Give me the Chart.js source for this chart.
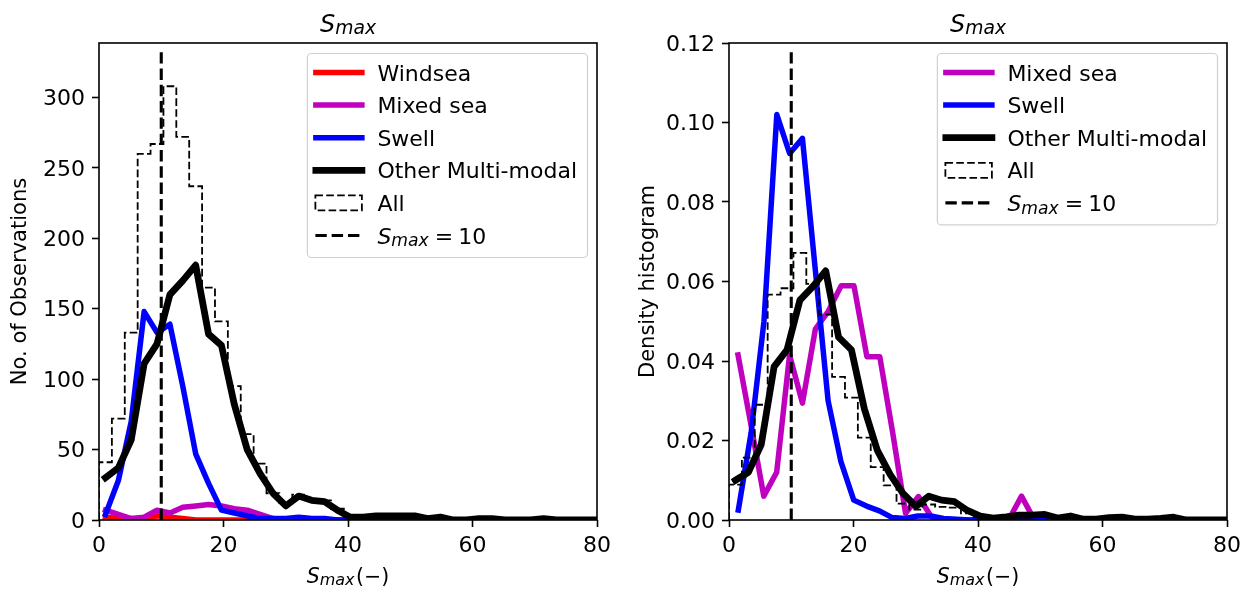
<!DOCTYPE html>
<html>
<head>
<meta charset="utf-8">
<script src="https://cdn.jsdelivr.net/npm/chart.js@4.4.1/dist/chart.umd.min.js"></script>
<style>
    body { margin: 0; background: #fff; }
    #wrap { position: relative; width: 1253px; height: 592px; }
    canvas { position: absolute; top: 0; }
    #counts { left: 0; }
    #density { left: 626px; }
</style>
</head>
<body>
<div id="wrap">
    <canvas id="counts" width="626" height="592"></canvas>
    <canvas id="density" width="627" height="592"></canvas>
</div>
<script>
// histogram bins of S_max (shared by the count plot and the "All" density)
const binEdges = [0, 2.07, 4.14, 6.21, 8.28, 10.35, 12.42, 14.49, 16.56, 18.63, 20.7, 22.77, 24.84, 26.91, 28.98, 31.05, 33.12, 35.19, 37.26, 39.33,
    41.4, 43.47, 45.54, 47.61, 49.68, 51.75, 53.82, 55.89, 57.96, 60.03, 62.1, 64.17, 66.24, 68.31, 70.38, 72.45, 74.52, 76.59, 78.66, 80.73, 82.8];
const binCentres = [1.04, 3.11, 5.18, 7.25, 9.32, 11.39, 13.46, 15.53, 17.6, 19.67, 21.74, 23.81, 25.88, 27.95, 30.02, 32.09, 34.16, 36.23, 38.3, 40.37,
    42.44, 44.51, 46.58, 48.65, 50.72, 52.79, 54.86, 56.93, 59.0, 61.07, 63.14, 65.21, 67.28, 69.35, 71.42, 73.49, 75.56, 77.63, 79.7, 81.77];

// number of observations per bin
const windseaCount = [2, 1, 1, 0, 3, 2, 1, 0, 0, 0, 0, 0, 0, 0, 0, 0, 0, 0, 0, 0,
    0, 0, 0, 0, 0, 0, 0, 0, 0, 0, 0, 0, 0, 0, 0, 0, 0, 0, 0, 0];
const mixedCount = [7, 4, 1, 2, 7, 5, 9, 10, 11, 10, 8, 7, 4, 1, 0, 0, 0, 0, 0, 0,
    0, 0, 0, 0, 0, 0, 0, 0, 0, 0, 0, 0, 0, 0, 0, 0, 0, 0, 0, 0];
const swellCount = [4, 28, 70, 148, 133, 139, 95, 47, 26, 7, 5, 3, 1, 1, 1, 2, 1, 1, 0, 0,
    0, 1, 1, 1, 0, 0, 0, 0, 0, 0, 0, 0, 0, 0, 0, 0, 0, 0, 0, 0];
const otherCount = [30, 37, 57, 111, 125, 160, 170, 181, 132, 124, 82, 50, 33, 19, 10, 17, 14, 13, 7, 2,
    2, 3, 3, 3, 3, 1, 2, 0, 0, 1, 1, 0, 0, 0, 1, 0, 0, 0, 0, 0];
const allCount = [41, 72, 133, 260, 267, 308, 272, 237, 165, 141, 95, 61, 40, 19, 12, 18, 15, 14, 8, 3,
    3, 4, 4, 4, 3, 1, 2, 0, 0, 1, 1, 0, 0, 0, 1, 0, 0, 0, 0, 0];

// density histograms (mixed sea and swell have their own bins)
const mixedCentresD = [1.45, 3.52, 5.59, 7.66, 9.73, 11.8, 13.87, 15.94, 18.01, 20.08, 22.15, 24.22,
    26.29, 28.36, 30.43, 32.5, 34.57, 36.64, 38.71, 40.78, 42.85, 44.92, 46.99, 49.06];
const mixedDensity = [0.0415, 0.024, 0.006, 0.012, 0.0415, 0.0294, 0.048, 0.0525, 0.0589, 0.0589, 0.0411, 0.0411,
    0.022, 0.0017, 0.0059, 0.0008, 0, 0, 0, 0, 0, 0, 0.006, 0];
const swellCentresD = [1.5, 3.56, 5.62, 7.68, 9.74, 11.8, 13.86, 15.92, 17.98, 20.04, 22.1, 24.16, 26.22,
    28.28, 30.34, 32.4, 34.46, 36.52, 38.58, 40.64, 42.7, 44.76, 46.82, 48.88, 50.94];
const swellDensity = [0.0025, 0.022, 0.05, 0.102, 0.0922, 0.096, 0.063, 0.030, 0.0147, 0.005, 0.0035, 0.0023, 0.0006,
    0.0004, 0.0010, 0.0010, 0.0004, 0.0002, 0, 0, 0, 0.0003, 0.0003, 0.0003, 0];
const otherDensity = [0.0100, 0.0120, 0.0190, 0.0386, 0.0428, 0.0553, 0.0587, 0.0627, 0.0460, 0.0428,
    0.0280, 0.0176, 0.0115, 0.0067, 0.0034, 0.0060, 0.0050, 0.0046, 0.0024, 0.0010,
    0.0005, 0.0008, 0.0012, 0.0012, 0.0014, 0.0005, 0.0010, 0.0002, 0.0002, 0.0006,
    0.0007, 0.0002, 0.0002, 0.0004, 0.0007, 0, 0, 0, 0, 0];
const allDensity = [0.0089, 0.0157, 0.0290, 0.0567, 0.0583, 0.0672, 0.0594, 0.0517, 0.0360, 0.0308,
    0.0207, 0.0133, 0.0087, 0.0041, 0.0026, 0.0039, 0.0033, 0.0031, 0.0017, 0.0007,
    0.0007, 0.0009, 0.0009, 0.0009, 0.0007, 0.0002, 0.0004, 0, 0, 0.0002,
    0.0002, 0, 0, 0, 0.0002, 0, 0, 0, 0, 0];

// S_max = 10 reference line
const smaxRef = 10;
const refTopCount = 334;
const refTopDensity = 0.1186;

// axes
const xTicks = [0, 20, 40, 60, 80];
const countTicks = [0, 50, 100, 150, 200, 250, 300];
const densityTicks = [0, 0.02, 0.04, 0.06, 0.08, 0.10, 0.12];
const countMax = 338.7;
const densityMax = 0.12;

const countLegend = ['Windsea', 'Mixed sea', 'Swell', 'Other Multi-modal', 'All'];
const densityLegend = ['Mixed sea', 'Swell', 'Other Multi-modal', 'All'];

const FONT = '"DejaVu Sans"';
const FS = 22;        // ticks and legend
const LABEL_FS = 20.5; // axis labels
const colours = { windsea: '#ff0000', mixed: '#bf00bf', swell: '#0000ff', other: '#000000' };

const fontStr = (size, italic) => (italic ? 'italic ' : '') + size + 'px ' + FONT;
const pts = (xs, ys) => xs.map((x, i) => ({ x: x, y: ys[i] }));

// outline of a step histogram: up the first edge, across each bin, down the last edge
const stepPts = (edges, heights) => {
    const p = [{ x: edges[0], y: 0 }];
    heights.forEach((h, i) => p.push({ x: edges[i], y: h }));
    p.push({ x: edges[edges.length - 1], y: 0 });
    return p;
};

// S with an italic "max" subscript
const smaxParts = (size) => [
    { t: 'S', size: size, it: true },
    { t: 'max', size: size * 0.78, it: true, dy: size * 0.12 }
];

const richWidth = (ctx, parts) => {
    let w = 0;
    parts.forEach(p => {
        if (p.gap != null) { w += p.gap; return; }
        ctx.font = fontStr(p.size, p.it);
        w += ctx.measureText(p.t).width;
    });
    return w;
};

const drawRich = (ctx, parts, x, y, align) => {
    let cx = align === 'center' ? x - richWidth(ctx, parts) / 2 : x;
    ctx.textAlign = 'left';
    ctx.textBaseline = 'alphabetic';
    ctx.fillStyle = '#000';
    parts.forEach(p => {
        if (p.gap != null) { cx += p.gap; return; }
        ctx.font = fontStr(p.size, p.it);
        ctx.fillText(p.t, cx, y + (p.dy || 0));
        cx += ctx.measureText(p.t).width;
    });
};

const drawLegend = (ctx, area, entries) => {
    const rowGap = 32.6;
    let textW = 0;
    entries.forEach(e => { textW = Math.max(textW, richWidth(ctx, e.label)); });
    const w = 70 + textW + 10.5;
    const h = 19 + rowGap * (entries.length - 1) + 22;
    const x0 = area.right - 9.5 - w;
    const y0 = area.top + 10.5;

    ctx.beginPath();
    ctx.roundRect(x0, y0, w, h, 4);
    ctx.fillStyle = 'rgba(255,255,255,0.8)';
    ctx.fill();
    ctx.strokeStyle = 'rgba(204,204,204,0.9)';
    ctx.lineWidth = 1.2;
    ctx.stroke();

    entries.forEach((e, i) => {
        const y = y0 + 19 + i * rowGap;
        ctx.save();
        ctx.strokeStyle = e.color;
        if (e.kind === 'patch') {
            ctx.lineWidth = 1.8;
            ctx.setLineDash([7.6, 3.3]);
            ctx.strokeRect(x0 + 8, y - 7.5, 46.5, 15);
        } else {
            ctx.lineWidth = e.width;
            ctx.setLineDash(e.dash || []);
            ctx.lineCap = e.dash ? 'butt' : 'square';
            ctx.beginPath();
            ctx.moveTo(e.dash ? x0 + 8 : x0 + 8.5, y);
            ctx.lineTo(e.dash ? x0 + 54 : x0 + 54.5, y);
            ctx.stroke();
        }
        ctx.restore();
        drawRich(ctx, e.label, x0 + 70, y + FS * 0.3645, 'left');
    });
};

// frame, title, x label and legend drawn on top of the datasets
const decor = (legendEntries) => ({
    id: 'decor',
    afterDatasetsDraw(chart) {
        const { ctx, chartArea: a } = chart;
        ctx.save();
        ctx.strokeStyle = '#000';
        ctx.lineWidth = 1.6;
        ctx.strokeRect(a.left, a.top, a.right - a.left, a.bottom - a.top);
        ctx.restore();
    },
    afterDraw(chart) {
        const { ctx, chartArea: a } = chart;
        const cx = (a.left + a.right) / 2;
        ctx.save();
        drawRich(ctx, smaxParts(24), cx, 31.5, 'center');
        drawRich(ctx, smaxParts(LABEL_FS).concat([{ gap: 1.5 }, { t: '(\u2212)', size: LABEL_FS }]), cx, 583, 'center');
        drawLegend(ctx, a, legendEntries);
        ctx.restore();
    }
});

const tickFont = { family: 'DejaVu Sans', size: FS };
const tickGrid = { drawOnChartArea: false, drawTicks: true, tickLength: 7, tickWidth: 1.6, tickColor: '#000' };

const xScale = () => ({
    type: 'linear', min: 0, max: 80,
    afterBuildTicks: s => { s.ticks = xTicks.map(v => ({ value: v })); },
    afterFit: s => { s.height = 72; },
    ticks: { color: '#000', font: tickFont, padding: 6, maxRotation: 0, callback: v => String(v) },
    grid: tickGrid,
    border: { display: false }
});

const yScale = (max, ticks, fmt, width, title, titlePad) => ({
    type: 'linear', min: 0, max: max,
    afterBuildTicks: s => { s.ticks = ticks.map(v => ({ value: v })); },
    afterFit: s => { s.width = width; },
    ticks: { color: '#000', font: tickFont, padding: 7, labelOffset: 2, callback: fmt },
    grid: tickGrid,
    border: { display: false },
    title: { display: true, text: title, color: '#000', font: { family: 'DejaVu Sans', size: 21 }, padding: { top: titlePad, bottom: 0 } }
});

const lineSet = (data, colour, width, order) => ({
    data: data, borderColor: colour, borderWidth: width, order: order,
    pointRadius: 0, fill: false, clip: 0, tension: 0,
    borderJoinStyle: 'round', borderCapStyle: 'square'
});

const histSet = (edges, heights, order) => ({
    data: stepPts(edges, heights), borderColor: '#000', borderWidth: 1.8, borderDash: [7.6, 3.3],
    stepped: true, order: order, pointRadius: 0, fill: false, clip: 0
});

const refSet = (top, order) => ({
    data: pts([smaxRef, smaxRef], [0, top]), borderColor: '#000', borderWidth: 3.1, borderDash: [11.4, 4.9],
    order: order, pointRadius: 0, fill: false, clip: 0
});

const refLabel = smaxParts(FS).concat([{ gap: 6 }, { t: '=', size: FS }, { gap: 5 }, { t: '10', size: FS }]);
const plain = (t) => [{ t: t, size: FS }];

const baseOptions = (padRight, scales) => ({
    responsive: false,
    animation: false,
    devicePixelRatio: 1,
    layout: { padding: { left: 0, top: 43, right: padRight, bottom: 0 } },
    plugins: { legend: { display: false }, tooltip: { enabled: false } },
    scales: scales
});

new Chart(document.getElementById('counts'), {
    type: 'line',
    data: {
        datasets: [
            lineSet(pts(binCentres, windseaCount), colours.windsea, 5.5, 6),
            lineSet(pts(binCentres, mixedCount), colours.mixed, 5.5, 5),
            lineSet(pts(binCentres, swellCount), colours.swell, 5.5, 4),
            lineSet(pts(binCentres, otherCount), colours.other, 6.8, 3),
            histSet(binEdges, allCount, 2),
            refSet(refTopCount, 1)
        ]
    },
    options: baseOptions(29, {
        x: xScale(),
        y: yScale(countMax, countTicks, v => String(v), 99, 'No. of Observations', 7.7)
    }),
    plugins: [decor([
        { kind: 'line', color: colours.windsea, width: 5.5, label: plain(countLegend[0]) },
        { kind: 'line', color: colours.mixed, width: 5.5, label: plain(countLegend[1]) },
        { kind: 'line', color: colours.swell, width: 5.5, label: plain(countLegend[2]) },
        { kind: 'line', color: colours.other, width: 6.8, label: plain(countLegend[3]) },
        { kind: 'patch', color: '#000', label: plain(countLegend[4]) },
        { kind: 'line', color: '#000', width: 3.1, dash: [11.4, 4.9], label: refLabel }
    ])]
});

new Chart(document.getElementById('density'), {
    type: 'line',
    data: {
        datasets: [
            lineSet(pts(mixedCentresD, mixedDensity), colours.mixed, 5.5, 5),
            lineSet(pts(swellCentresD, swellDensity), colours.swell, 5.5, 4),
            lineSet(pts(binCentres, otherDensity), colours.other, 6.8, 3),
            histSet(binEdges, allDensity, 2),
            refSet(refTopDensity, 1)
        ]
    },
    options: baseOptions(26, {
        x: xScale(),
        y: yScale(densityMax, densityTicks, v => v.toFixed(2), 103, 'Density histogram', 9.7)
    }),
    plugins: [decor([
        { kind: 'line', color: colours.mixed, width: 5.5, label: plain(densityLegend[0]) },
        { kind: 'line', color: colours.swell, width: 5.5, label: plain(densityLegend[1]) },
        { kind: 'line', color: colours.other, width: 6.8, label: plain(densityLegend[2]) },
        { kind: 'patch', color: '#000', label: plain(densityLegend[3]) },
        { kind: 'line', color: '#000', width: 3.1, dash: [11.4, 4.9], label: refLabel }
    ])]
});
</script>
</body>
</html>
